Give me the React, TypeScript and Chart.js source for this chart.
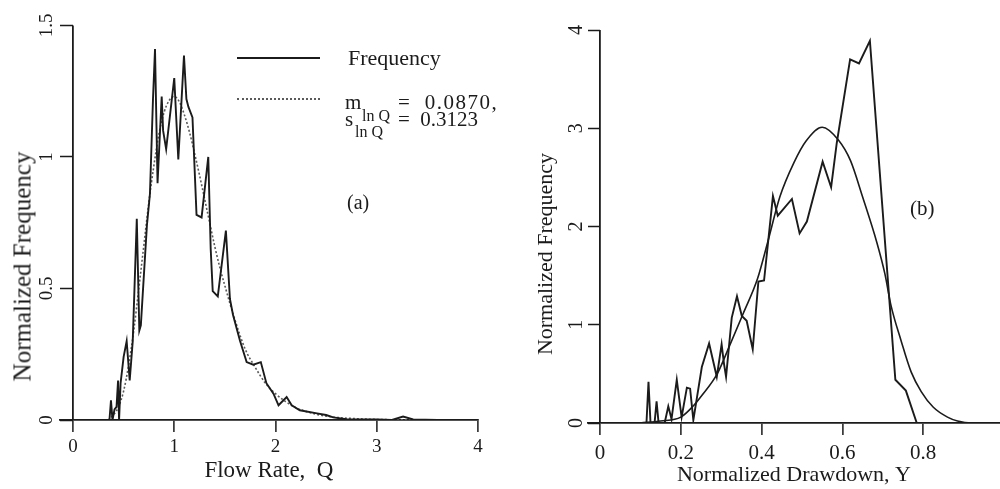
import React, { useEffect, useRef } from "react";
import { Chart, registerables } from "chart.js";

Chart.register(...registerables);

const INK = "#1b1b1b";
const FIT_GREY = "#5a5a5a";
const SERIF = "'Liberation Serif', 'Times New Roman', serif";

// ---------- Panel (a): flow rate ----------
const flowRateQ = [0.30, 0.36, 0.375, 0.39, 0.41, 0.43, 0.445, 0.455, 0.47, 0.50, 0.53, 0.56, 0.59, 0.63, 0.655, 0.67, 0.73, 0.76, 0.79, 0.81, 0.835, 0.876, 0.89, 0.92, 1.0, 1.04, 1.096, 1.12, 1.14, 1.18, 1.22, 1.27, 1.336, 1.36, 1.38, 1.43, 1.51, 1.55, 1.58, 1.65, 1.715, 1.78, 1.855, 1.91, 1.98, 2.03, 2.11, 2.16, 2.24, 2.41, 2.5, 2.57, 2.7, 3.0, 3.15, 3.26, 3.36, 3.6, 4.0];
const flowFrequency = [0, 0, 0.075, 0, 0.04, 0.05, 0.15, 0, 0.14, 0.24, 0.30, 0.15, 0.30, 0.765, 0.34, 0.36, 0.74, 0.86, 1.22, 1.41, 0.90, 1.23, 1.10, 1.03, 1.30, 0.99, 1.385, 1.22, 1.19, 1.15, 0.78, 0.77, 1.0, 0.65, 0.49, 0.47, 0.72, 0.46, 0.40, 0.30, 0.22, 0.21, 0.22, 0.14, 0.10, 0.056, 0.087, 0.056, 0.037, 0.025, 0.019, 0.01, 0.003, 0.002, 0, 0.013, 0.002, 0, 0];

const fitQ = [0.35, 0.40, 0.45, 0.50, 0.55, 0.60, 0.65, 0.70, 0.75, 0.80, 0.85, 0.90, 0.95, 1.00, 1.05, 1.10, 1.15, 1.20, 1.25, 1.30, 1.35, 1.40, 1.45, 1.50, 1.60, 1.70, 1.80, 1.90, 2.00, 2.10, 2.20, 2.40, 2.60, 2.80, 3.00, 3.50];
const fitFrequencyQ = [0, 0.02, 0.05, 0.11, 0.21, 0.34, 0.50, 0.665, 0.83, 0.97, 1.09, 1.17, 1.215, 1.23, 1.21, 1.16, 1.095, 1.015, 0.93, 0.84, 0.75, 0.66, 0.58, 0.51, 0.38, 0.27, 0.20, 0.14, 0.10, 0.07, 0.047, 0.022, 0.01, 0.005, 0.002, 0];

const xTicksA = [0, 1, 2, 3, 4];
const yTicksA = [0, 0.5, 1, 1.5];

// ---------- Panel (b): normalized drawdown ----------
const drawdownY = [0.10, 0.115, 0.12, 0.125, 0.135, 0.14, 0.145, 0.16, 0.169, 0.177, 0.19, 0.202, 0.215, 0.223, 0.231, 0.252, 0.27, 0.289, 0.301, 0.307, 0.312, 0.326, 0.339, 0.351, 0.363, 0.378, 0.392, 0.406, 0.428, 0.44, 0.475, 0.494, 0.512, 0.551, 0.572, 0.586, 0.619, 0.641, 0.668, 0.731, 0.757, 0.784, 0.99];
const drawdownFrequency = [0, 0, 0.42, 0, 0, 0.22, 0, 0, 0.17, 0.04, 0.44, 0.06, 0.36, 0.35, 0.03, 0.57, 0.81, 0.47, 0.80, 0.60, 0.47, 1.07, 1.29, 1.09, 1.04, 0.75, 1.44, 1.45, 2.31, 2.11, 2.28, 1.93, 2.05, 2.66, 2.40, 2.85, 3.70, 3.66, 3.89, 0.44, 0.33, 0, 0];

const fitY = [0.10, 0.15, 0.20, 0.23, 0.25, 0.29, 0.32, 0.355, 0.39, 0.415, 0.445, 0.48, 0.51, 0.55, 0.59, 0.62, 0.65, 0.685, 0.705, 0.72, 0.745, 0.77, 0.795, 0.825, 0.86, 0.885, 0.92, 0.99];
const fitFrequencyY = [0, 0.02, 0.06, 0.17, 0.27, 0.50, 0.78, 1.12, 1.47, 1.84, 2.30, 2.65, 2.87, 3.01, 2.88, 2.67, 2.30, 1.84, 1.52, 1.20, 0.84, 0.52, 0.32, 0.16, 0.06, 0.02, 0, 0];

const xTicksB = [0, 0.2, 0.4, 0.6, 0.8];
const yTicksB = [0, 1, 2, 3, 4];

const toPoints = (xs: number[], ys: number[]) => xs.map((x, i) => ({ x, y: ys[i] }));

type PanelSpec = {
  xMin: number;
  xMax: number;
  yMax: number;
  xTicks: number[];
  yTicks: number[];
  yAxisWidth: number;
  xAxisHeight: number;
  yTickLen: number;
  padding: { top: number; right: number; bottom: number; left: number };
  xTickFont: number;
  yTickFont: number;
  xTickPad: number;
  yTickPad: number;
  xTitle: string;
  xTitleSize: number;
  xTitlePad: number;
  datasets: any[];
};

function buildConfig(p: PanelSpec): any {
  return {
    type: "line",
    data: { datasets: p.datasets },
    options: {
      animation: false,
      responsive: false,
      maintainAspectRatio: false,
      layout: { padding: p.padding },
      plugins: { legend: { display: false }, tooltip: { enabled: false } },
      elements: { point: { radius: 0 } },
      scales: {
        x: {
          type: "linear",
          min: p.xMin,
          max: p.xMax,
          afterFit: (s: any) => {
            s.height = p.xAxisHeight;
          },
          afterBuildTicks: (s: any) => {
            s.ticks = p.xTicks.map((v) => ({ value: v }));
          },
          ticks: {
            font: { family: SERIF, size: p.xTickFont },
            color: INK,
            padding: p.xTickPad,
            minRotation: 0,
            maxRotation: 0,
            autoSkip: false,
            includeBounds: false,
            callback: (v: any) => String(v),
          },
          grid: {
            drawOnChartArea: true,
            color: (c: any) => (c.tick && c.tick.value === 0 ? INK : "rgba(0,0,0,0)"),
            lineWidth: 1.8,
            tickColor: INK,
            tickWidth: 1.5,
            tickLength: 12,
          },
          border: { display: true, color: INK, width: 1.8 },
          title: {
            display: true,
            text: p.xTitle,
            color: INK,
            font: { family: SERIF, size: p.xTitleSize },
            padding: { top: 0, bottom: p.xTitlePad },
          },
        },
        y: {
          type: "linear",
          min: 0,
          max: p.yMax,
          afterFit: (s: any) => {
            s.width = p.yAxisWidth;
          },
          afterBuildTicks: (s: any) => {
            s.ticks = p.yTicks.map((v) => ({ value: v }));
          },
          ticks: {
            font: { family: SERIF, size: p.yTickFont },
            color: INK,
            padding: p.yTickPad,
            minRotation: 90,
            maxRotation: 90,
            crossAlign: "center",
            autoSkip: false,
            callback: (v: any) => String(v),
          },
          grid: {
            drawOnChartArea: false,
            tickLength: p.yTickLen,
            tickColor: INK,
            tickWidth: 1.5,
          },
          border: { display: false },
        },
      },
    },
  };
}

const panelA: PanelSpec = {
  xMin: -0.13,
  xMax: 4,
  yMax: 1.5,
  xTicks: xTicksA,
  yTicks: yTicksA,
  yAxisWidth: 59.84,
  xAxisHeight: 69,
  yTickLen: -13.16,
  padding: { top: 20, right: 22, bottom: 0, left: 0 },
  xTickFont: 19,
  yTickFont: 19,
  xTickPad: 4,
  yTickPad: 14,
  xTitle: "Flow Rate,  Q",
  xTitleSize: 23,
  xTitlePad: 4,
  datasets: [
    {
      label: "Frequency",
      data: toPoints(flowRateQ, flowFrequency),
      borderColor: INK,
      borderWidth: 1.9,
      tension: 0,
      pointRadius: 0,
    },
    {
      label: "Lognormal fit",
      data: toPoints(fitQ, fitFrequencyQ),
      borderColor: FIT_GREY,
      borderWidth: 1.6,
      borderDash: [2, 2],
      cubicInterpolationMode: "monotone",
      pointRadius: 0,
    },
  ],
};

const panelB: PanelSpec = {
  xMin: -0.03,
  xMax: 0.99,
  yMax: 4,
  xTicks: xTicksB,
  yTicks: yTicksB,
  yAxisWidth: 87.89,
  xAxisHeight: 66,
  yTickLen: -12.11,
  padding: { top: 26, right: 0, bottom: 0, left: 0 },
  xTickFont: 21,
  yTickFont: 20,
  xTickPad: 6,
  yTickPad: 18,
  xTitle: "Normalized Drawdown, Y",
  xTitleSize: 22,
  xTitlePad: 1,
  datasets: [
    {
      label: "Frequency",
      data: toPoints(drawdownY, drawdownFrequency),
      borderColor: INK,
      borderWidth: 1.9,
      tension: 0,
      pointRadius: 0,
    },
    {
      label: "Fit",
      data: toPoints(fitY, fitFrequencyY),
      borderColor: INK,
      borderWidth: 1.6,
      cubicInterpolationMode: "monotone",
      pointRadius: 0,
    },
  ],
};

// text placed by its baseline (Liberation Serif: baseline at 0.8375em below the top when line-height = 1em)
function Txt(props: { x: number; baseline: number; size: number; children: any; spacing?: number }) {
  const { x, baseline, size, children, spacing } = props;
  return (
    <div
      style={{
        position: "absolute",
        left: x,
        top: baseline - 0.8375 * size,
        fontFamily: SERIF,
        fontSize: size,
        lineHeight: `${size}px`,
        color: INK,
        whiteSpace: "pre",
        letterSpacing: spacing ? `${spacing}px` : undefined,
      }}
    >
      {children}
    </div>
  );
}

function VText(props: { cx: number; cy: number; size: number; children: any }) {
  const { cx, cy, size, children } = props;
  const w = 320;
  return (
    <div
      style={{
        position: "absolute",
        left: cx - w / 2,
        top: cy - size / 2,
        width: w,
        height: size,
        lineHeight: `${size}px`,
        fontFamily: SERIF,
        fontSize: size,
        color: INK,
        textAlign: "center",
        whiteSpace: "nowrap",
        transform: "rotate(-90deg)",
      }}
    >
      {children}
    </div>
  );
}

export default function App() {
  const leftRef = useRef<HTMLCanvasElement>(null);
  const rightRef = useRef<HTMLCanvasElement>(null);

  useEffect(() => {
    const a = new Chart(leftRef.current as HTMLCanvasElement, buildConfig(panelA));
    const b = new Chart(rightRef.current as HTMLCanvasElement, buildConfig(panelB));
    return () => {
      a.destroy();
      b.destroy();
    };
  }, []);

  return (
    <div
      style={{
        position: "fixed",
        left: 0,
        top: 0,
        width: 1000,
        height: 489,
        background: "#ffffff",
        overflow: "hidden",
      }}
    >
      <canvas
        ref={leftRef}
        width={500}
        height={489}
        style={{ position: "absolute", left: 0, top: 0, width: 500, height: 489 }}
      />
      <canvas
        ref={rightRef}
        width={500}
        height={489}
        style={{ position: "absolute", left: 500, top: 0, width: 500, height: 489 }}
      />

      {/* y-axis titles */}
      <VText cx={21.6} cy={266.5} size={25}>Normalized Frequency</VText>
      <VText cx={544.6} cy={254} size={22}>Normalized Frequency</VText>

      {/* legend of panel (a) */}
      <div style={{ position: "absolute", left: 237, top: 57, width: 83, borderTop: `2px solid ${INK}` }} />
      <div style={{ position: "absolute", left: 237, top: 98, width: 83, borderTop: `2px dotted ${FIT_GREY}` }} />
      <Txt x={348} baseline={65} size={22}>Frequency</Txt>
      <Txt x={345} baseline={110} size={21}>m</Txt>
      <Txt x={362} baseline={121} size={16}>ln Q</Txt>
      <Txt x={398} baseline={110} size={21} spacing={1.5}>=  0.0870,</Txt>
      <Txt x={345} baseline={127} size={21}>s</Txt>
      <Txt x={355} baseline={137} size={16}>ln Q</Txt>
      <Txt x={398} baseline={127} size={21}>=  0.3123</Txt>

      {/* panel labels */}
      <Txt x={347} baseline={209} size={20}>(a)</Txt>
      <Txt x={910} baseline={216} size={21}>(b)</Txt>
    </div>
  );
}
